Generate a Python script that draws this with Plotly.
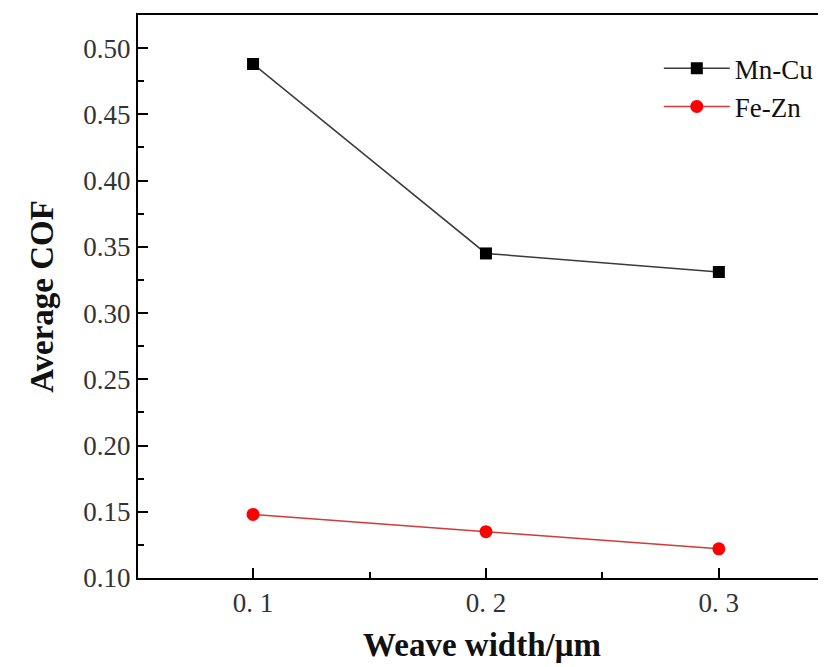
import plotly.graph_objects as go

widths = [0.1, 0.2, 0.3]
tick_vals = [0.1, 0.2, 0.3]
tick_text = ["0. 1", "0. 2", "0. 3"]
mn_cu = [0.488, 0.345, 0.331]
fe_zn = [0.148, 0.135, 0.122]

fig = go.Figure()
fig.add_trace(go.Scatter(x=widths, y=mn_cu, name="Mn-Cu", mode="lines+markers",
                         line=dict(color="#3a3a3a", width=1.5),
                         marker=dict(symbol="square", size=12, color="black")))
fig.add_trace(go.Scatter(x=widths, y=fe_zn, name="Fe-Zn", mode="lines+markers",
                         line=dict(color="#d03a3a", width=1.5),
                         marker=dict(symbol="circle", size=13, color="red")))

font = "Liberation Serif, Times New Roman, serif"
fig.update_layout(
    width=818, height=659,
    margin=dict(l=130, r=0, t=7, b=89),
    paper_bgcolor="white", plot_bgcolor="white",
    font=dict(family=font, size=24, color="#222"),
    legend=dict(x=0.757, y=0.948, xanchor="left", yanchor="top",
                font=dict(size=27, family=font, color="#111"), bgcolor="rgba(0,0,0,0)",
                itemwidth=66, tracegroupgap=0),
    xaxis=dict(range=[0.0506, 0.346], tickvals=tick_vals, ticktext=tick_text,
               ticks="inside", ticklen=10, tickwidth=1.5, tickcolor="black",
               showline=True, linecolor="black", linewidth=2, mirror=True,
               showgrid=False, zeroline=False,
               minor=dict(ticks="inside", ticklen=6, dtick=0.05, tick0=0.05, tickcolor="black", tickwidth=1.5),
               title=dict(text="<b>Weave width/μm</b>", font=dict(size=33, family=font, color="#111"), standoff=15),
               tickfont=dict(size=27, family=font, color="#333")),
    yaxis=dict(range=[0.10, 0.525], dtick=0.05, tick0=0.10, tickformat=".2f",
               ticks="inside", ticklen=10, tickwidth=1.5, tickcolor="black",
               showline=True, linecolor="black", linewidth=2,
               showgrid=False, zeroline=False,
               minor=dict(ticks="inside", ticklen=6, dtick=0.025, tickcolor="black", tickwidth=1.5),
               title=dict(text="<b>Average COF</b>", font=dict(size=33, family=font, color="#111"), standoff=20),
               tickfont=dict(size=27, family=font, color="#333")),
)
fig.write_html("out.html")
